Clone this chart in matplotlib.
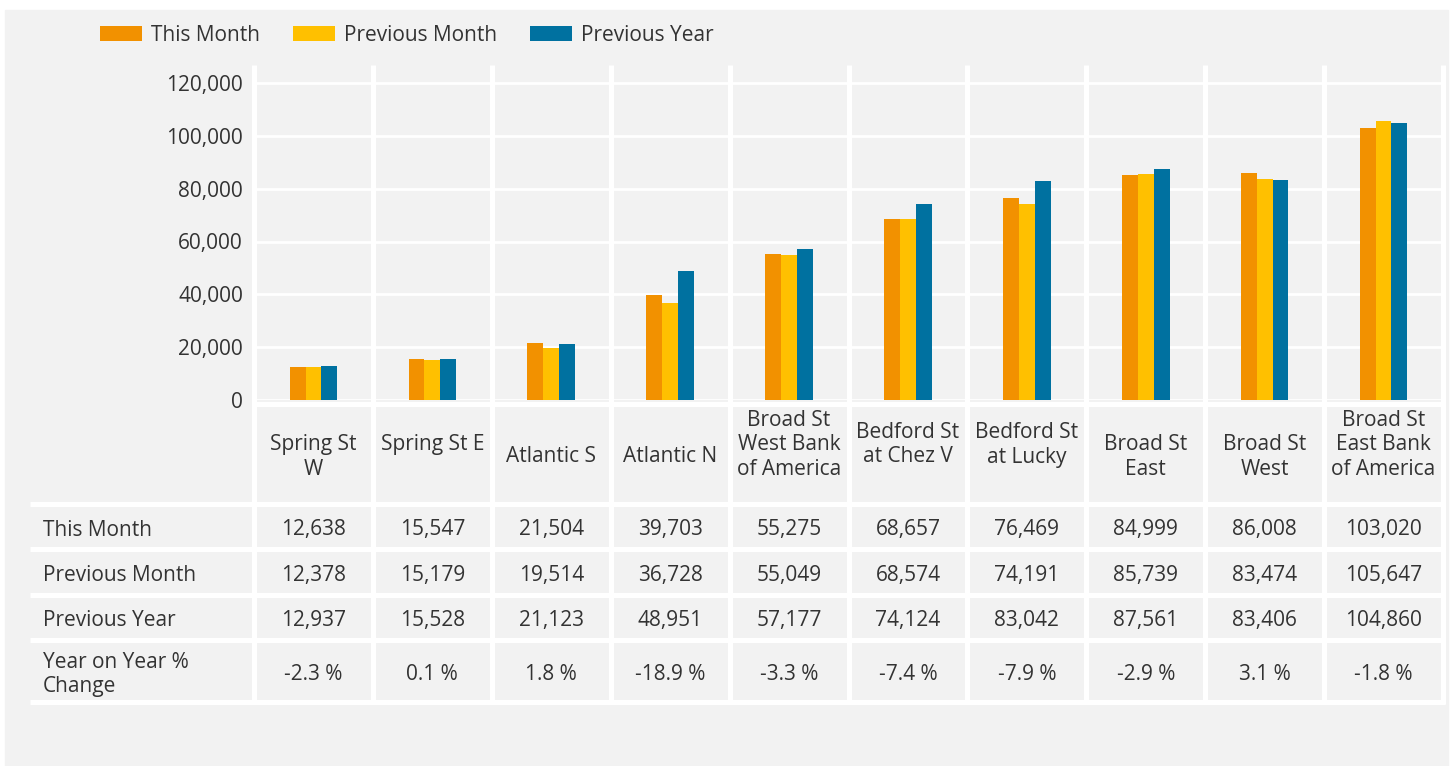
import matplotlib.pyplot as plt
from matplotlib.patches import Rectangle
import numpy as np

plt.rcParams['font.family'] = ['Open Sans', 'DejaVu Sans']

# data
locations = ["Spring St\nW", "Spring St E\n", "Atlantic S", "Atlantic N",
             "Broad St\nWest Bank\nof America\n", "Bedford St\nat Chez V\n",
             "Bedford St\nat Lucky\n", "Broad St\nEast", "Broad St\nWest",
             "Broad St\nEast Bank\nof America\n"]
this_month = [12638, 15547, 21504, 39703, 55275, 68657, 76469, 84999, 86008, 103020]
previous_month = [12378, 15179, 19514, 36728, 55049, 68574, 74191, 85739, 83474, 105647]
previous_year = [12937, 15528, 21123, 48951, 57177, 74124, 83042, 87561, 83406, 104860]
series_names = ["This Month", "Previous Month", "Previous Year"]
colors = ["#f29100", "#ffc000", "#0071a0"]
yticks = [0, 20000, 40000, 60000, 80000, 100000, 120000]

yoy = [(a - b) / b * 100 for a, b in zip(this_month, previous_year)]

# layout (pixels)
W, H = 1454, 766
txt = "#333333"
fs = 15
x0, x1 = 254, 1443
col_w = (x1 - x0) / len(locations)
plot_top, plot_bot = 65, 400
row_lines = [504.2, 549.3, 594.8, 640.3, 701.5]
row_centers = [530, 575.5, 620.5, 674.5]
header_center = 457

fig = plt.figure(figsize=(W / 100, H / 100), dpi=100)
fig.patch.set_facecolor("white")

bg = fig.add_axes([0, 0, 1, 1])
bg.set_xlim(0, W)
bg.set_ylim(H, 0)
bg.axis("off")
bg.add_patch(Rectangle((5, 10), 1443, 756, color="#f2f2f2", zorder=0))

# white separators
for i in range(len(locations) + 1):
    xe = x0 + i * col_w
    bg.plot([xe, xe], [plot_top, 704], color="white", lw=3.6, solid_capstyle="butt", zorder=1)
bg.plot([x0, 1445], [403.7, 403.7], color="white", lw=3.6, solid_capstyle="butt", zorder=1)
for yl in row_lines:
    bg.plot([30, 1445], [yl, yl], color="white", lw=3.6, solid_capstyle="butt", zorder=1)

# chart
ax = fig.add_axes([x0 / W, 1 - plot_bot / H, (x1 - x0) / W, (plot_bot - plot_top) / H])
ax.set_facecolor("none")
ax.set_xlim(0, len(locations))
ax.set_ylim(0, 120000 * (plot_bot - plot_top) / 317)
x = np.arange(len(locations)) + 0.5
bw = 0.1335
handles = []
for k, vals in enumerate([this_month, previous_month, previous_year]):
    b = ax.bar(x + (k - 1) * bw, vals, width=bw, color=colors[k], zorder=3, label=series_names[k])
    handles.append(b)
ax.set_yticks(yticks)
ax.set_yticklabels([f"{v:,}" for v in yticks])
ax.set_xticks([])
ax.tick_params(axis="y", length=0, pad=8, labelsize=fs, labelcolor=txt)
ax.grid(axis="y", color="white", lw=2)
ax.set_axisbelow(True)
for s in ax.spines.values():
    s.set_visible(False)

# legend
fig.legend(handles, series_names, loc="upper left", bbox_to_anchor=(100 / W, 1 - 25 / H),
           ncol=3, frameon=False, fontsize=fs, labelcolor=txt, handlelength=2.0,
           handleheight=0.76, handletextpad=0.43, columnspacing=1.6,
           borderpad=0, borderaxespad=0)

# table
for i, name in enumerate(locations):
    cx = x0 + (i + 0.5) * col_w
    bg.text(cx, header_center, name, ha="center", va="center", multialignment="center",
            fontsize=fs, color=txt, linespacing=1.2, zorder=2)

row_labels = ["This Month", "Previous Month", "Previous Year", "Year on Year %\nChange"]
rows = [[f"{v:,}" for v in this_month],
        [f"{v:,}" for v in previous_month],
        [f"{v:,}" for v in previous_year],
        [f"{v:.1f} %" for v in yoy]]
for r, (lab, cells) in enumerate(zip(row_labels, rows)):
    yc = row_centers[r]
    bg.text(43, yc, lab, ha="left", va="center", fontsize=fs, color=txt, linespacing=1.2, zorder=2)
    for i, c in enumerate(cells):
        cx = x0 + (i + 0.5) * col_w
        bg.text(cx, yc - 0.5 if r == 3 else yc, c, ha="center", va="center", fontsize=fs,
                color=txt, zorder=2)

fig.savefig("out.png", dpi=100, facecolor=fig.get_facecolor())
